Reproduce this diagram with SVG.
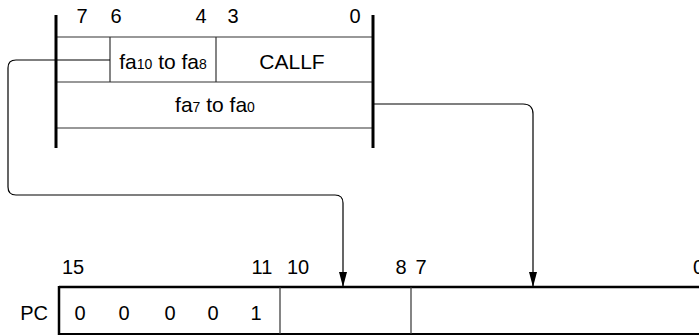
<svg xmlns="http://www.w3.org/2000/svg" width="699" height="335" viewBox="0 0 699 335">
<style>
text{font-family:"Liberation Sans",Arial,sans-serif;font-size:20px;fill:#000}
.mid{text-anchor:middle}
.cell{font-size:21px}
.sub{font-size:14px}
.thick{stroke:#000;stroke-width:3;fill:none}
.thin{stroke:#333;stroke-width:1.2;fill:none}
.conn{stroke:#000;stroke-width:1.2;fill:none}
</style>
<defs>
<marker id="arr" markerUnits="userSpaceOnUse" viewBox="0 0 15 8" refX="15" refY="4" markerWidth="15" markerHeight="8" orient="auto">
<path d="M0,0 L15,4 L0,8 z" fill="#000"/>
</marker>
</defs>
<g id="instruction">
<line class="thin" x1="56" y1="37" x2="373" y2="37"/>
<line class="thin" x1="56" y1="82" x2="373" y2="82"/>
<line class="thin" x1="56" y1="128" x2="373" y2="128"/>
<line class="thin" x1="110" y1="37" x2="110" y2="82"/>
<line class="thin" x1="216" y1="37" x2="216" y2="82"/>
<line class="thick" x1="56" y1="15" x2="56" y2="148"/>
<line class="thick" x1="373" y1="15" x2="373" y2="148"/>
<text x="82" y="23" class="mid">7</text>
<text x="116" y="23" class="mid">6</text>
<text x="201" y="23" class="mid">4</text>
<text x="233" y="23" class="mid">3</text>
<text x="355" y="23" class="mid">0</text>
<text x="163" y="69" class="mid cell">fa<tspan class="sub">10</tspan> to fa<tspan class="sub">8</tspan></text>
<text x="292" y="69" class="mid cell">CALLF</text>
<text x="215" y="112" class="mid cell">fa<tspan class="sub">7</tspan> to fa<tspan class="sub">0</tspan></text>
</g>
<g id="connectors">
<path class="conn" d="M110,60 H16 Q8,60 8,68 V187 Q8,195 16,195 H335 Q343,195 343,203 V287" marker-end="url(#arr)"/>
<path class="conn" d="M373,104 H523 Q533,104 533,114 V287" marker-end="url(#arr)"/>
</g>
<g id="pc">
<text x="73" y="274" class="mid">15</text>
<text x="262" y="274" class="mid">11</text>
<text x="298" y="274" class="mid">10</text>
<text x="401" y="274" class="mid">8</text>
<text x="421" y="274" class="mid">7</text>
<text x="693" y="274">0</text>
<text x="48" y="320" text-anchor="end">PC</text>
<line stroke="#000" stroke-width="2.5" x1="59" y1="287" x2="699" y2="287"/>
<line stroke="#000" stroke-width="1.8" x1="59" y1="334" x2="699" y2="334"/>
<line stroke="#000" stroke-width="2.5" x1="59" y1="286" x2="59" y2="335"/>
<line class="thin" x1="280" y1="287" x2="280" y2="334"/>
<line class="thin" x1="411" y1="287" x2="411" y2="334"/>
<text x="80" y="320" class="mid">0</text>
<text x="124" y="320" class="mid">0</text>
<text x="170" y="320" class="mid">0</text>
<text x="213" y="320" class="mid">0</text>
<text x="256" y="320" class="mid">1</text>
</g>
</svg>
